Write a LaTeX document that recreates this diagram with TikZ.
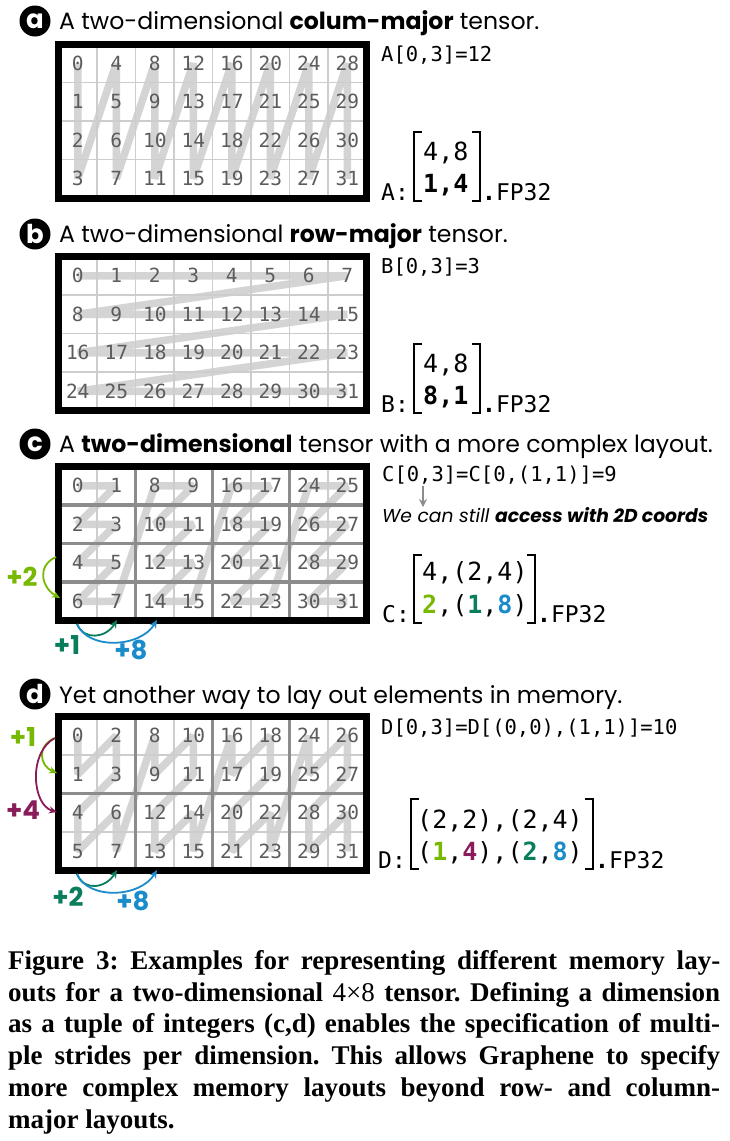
\documentclass[tikz,border=0pt]{standalone}
\usepackage{fontspec}
\setmainfont{Liberation Serif}
\setsansfont{Poppins}
\setmonofont{DejaVu Sans Mono}
\usetikzlibrary{arrows.meta}

\definecolor{nvgreen}{HTML}{76B900}
\definecolor{strideteal}{HTML}{0A7D5C}
\definecolor{strideblue}{HTML}{1A8BCB}
\definecolor{strideplum}{HTML}{8A1C5C}
\definecolor{bandgray}{HTML}{D4D4D4}
\definecolor{rulegray}{HTML}{CDCDCD}
\definecolor{tilegray}{HTML}{8C8C8C}
\definecolor{numgray}{HTML}{5C5C5C}

% grid geometry: left edge and cell size
\def\gx{58.5}
\def\cs{38.5}

% coordinates of the 32 elements of one tensor, placed by memory offset
\newcommand\placecells[4]{%
  \foreach \k in {0,...,31}{%
    \pgfmathtruncatemacro\cellcol{#3}%
    \pgfmathtruncatemacro\cellrow{#4}%
    \coordinate (#1\k) at ({\gx+(\cellcol+0.5)*\cs},{#2+(\cellrow+0.5)*\cs});
  }%
}
% white field, memory-order band, thin cell rules
\newcommand\tensorbase[2]{%
  \fill[white] (\gx,#2) rectangle ++(308,154);
  \draw[band] (#10) \foreach \k in {1,...,31}{ -- (#1\k)};
  \foreach \i in {1,...,7} \draw[cellrule] ({\gx+\i*\cs},#2) -- ++(0,154);
  \foreach \j in {1,2,3} \draw[cellrule] (\gx,{#2+\j*\cs}) -- ++(308,0);
}
% element numbers and outer frame
\newcommand\tensortop[2]{%
  \foreach \k in {0,...,31} \node[num] (n#1\k) at (#1\k) {\k};
  \draw[tensorframe] (\gx,#2) rectangle ++(308,154);
}

\tikzset{
  num/.style={font=\fontsize{19.5}{20}\selectfont\ttfamily, text=numgray, inner sep=0pt},
  band/.style={draw=bandgray, line width=7.5pt, line join=bevel},
  cellrule/.style={draw=rulegray, line width=1.8pt},
  tilerule/.style={draw=tilegray, line width=3.2pt},
  tensorframe/.style={draw=black, line width=7pt},
  badge/.style={circle, fill=black, text=white, minimum size=31pt, inner sep=0pt,
    font=\fontsize{26}{26}\selectfont\sffamily\bfseries},
  title/.style={anchor=base west, inner sep=0pt, font=\fontsize{23.6}{26}\selectfont\sffamily},
  code/.style={anchor=base west, inner sep=0pt, font=\fontsize{20.5}{22}\selectfont\ttfamily},
  mat/.style={anchor=base west, inner sep=0pt, font=\fontsize{25}{26}\selectfont\ttfamily},
  lab/.style={anchor=base west, inner sep=0pt, font=\fontsize{23}{24}\selectfont\ttfamily},
  stride/.style={font=\fontsize{26}{26}\selectfont\sffamily\bfseries, inner sep=0pt},
  strarrow/.style={line width=1.8pt, -{Stealth[length=8pt,width=7pt]}},
  bracket/.style={draw=black, line width=2.4pt},
}

\begin{document}
\begin{tikzpicture}[x=1pt,y=-1pt]
\useasboundingbox (0,0) rectangle (729,1141);
\fill[white] (0,0) rectangle (729,1141);

% ---------------- (a) column-major ----------------
\node[badge] (ba) at (35,21) {a};
\node[title] (ta) at (59,29) {A two-dimensional \textbf{colum-major} tensor.};
\placecells{a}{44}{int(\k/4)}{mod(\k,4)}
\tensorbase{a}{44}
\tensortop{a}{44}
\node[code] (ia) at (381,61) {A[0,3]=12};
\node[lab] (la) at (381,200) {A:};
\node[mat] (ra1) at (423,160) {4,8};
\node[mat] (ra2) at (423,192) {\textbf{1,4}};
\draw[bracket] (422,132) -- (414,132) -- (414,201) -- (422,201);
\draw[bracket] (472,132) -- (480,132) -- (480,201) -- (472,201);
\node[lab] (fa) at (482,200) {\textbf{.}FP32};

% ---------------- (b) row-major ----------------
\node[badge] (bb) at (35,234) {b};
\node[title] (tb) at (59,242) {A two-dimensional \textbf{row-major} tensor.};
\placecells{b}{256.5}{mod(\k,8)}{int(\k/8)}
\tensorbase{b}{256.5}
\tensortop{b}{256.5}
\node[code] (ib) at (381,273.5) {B[0,3]=3};
\node[lab] (lb) at (381,412) {B:};
\node[mat] (rb1) at (423,372) {4,8};
\node[mat] (rb2) at (423,404) {\textbf{8,1}};
\draw[bracket] (422,344) -- (414,344) -- (414,413) -- (422,413);
\draw[bracket] (472,344) -- (480,344) -- (480,413) -- (472,413);
\node[lab] (fb) at (482,412) {\textbf{.}FP32};

% ---------------- (c) nested dimension ----------------
\node[badge] (bc) at (35,444) {c};
\node[title] (tc) at (59,452) {A \textbf{two-dimensional} tensor with a more complex layout.};
\placecells{c}{466.5}{2*int(\k/8)+mod(mod(\k,8),2)}{int(mod(\k,8)/2)}
\tensorbase{c}{466.5}
\foreach \i in {2,4,6} \draw[tilerule] ({\gx+\i*\cs},466.5) -- ++(0,154);
\foreach \j in {1,2,3} \draw[tilerule] (\gx,{466.5+\j*\cs}) -- ++(308,0);
\tensortop{c}{466.5}
\node[code] (ic) at (382,481) {C[0,3]=C[0,(1,1)]=9};
\coordinate (cn1) at (423,486);
\coordinate (cn2) at (423,507);
\draw[line width=2pt, draw=tilegray, -{Stealth[length=8pt,width=8pt]}] (cn1) -- (cn2);
\node[anchor=base west, inner sep=0pt, font=\fontsize{18.7}{20}\selectfont\sffamily\itshape] (nc) at (382,522)
  {We can still \textbf{access with 2D coords}};
\node[lab] (lc) at (382,622) {C:};
\node[mat] (rc1) at (422,580) {4,(2,4)};
\node[mat] (rc2) at (422,613) {\textbf{\textcolor{nvgreen}{2}},(\textbf{\textcolor{strideteal}{1}},\textbf{\textcolor{strideblue}{8}})};
\draw[bracket] (422,555) -- (414,555) -- (414,623) -- (422,623);
\draw[bracket] (527,555) -- (535,555) -- (535,623) -- (527,623);
\node[lab] (fc) at (537,622) {\textbf{.}FP32};
% strides
\coordinate (c2s) at (56,557);
\coordinate (c2e) at (60,598);
\draw[strarrow, nvgreen] (c2s) .. controls (36,566) and (42,588) .. (c2e);
\node[stride, text=nvgreen] (sc2) at (22,577) {+2};
\coordinate (c1s) at (77,624);
\coordinate (c1e) at (117,620);
\coordinate (c8e) at (157,620);
\draw[strarrow, strideteal] (c1s) .. controls (84,641) and (106,638) .. (c1e);
\draw[strarrow, strideblue] (c1s) .. controls (88,650) and (140,648) .. (c8e);
\node[stride, text=strideteal] (sc1) at (67,645) {+1};
\node[stride, text=strideblue] (sc8) at (131,650) {+8};

% ---------------- (d) nested in both dimensions ----------------
\node[badge] (bd) at (35,694) {d};
\node[title] (td) at (59,703) {Yet another way to lay out elements in memory.};
\placecells{d}{716.5}{2*int(\k/8)+int(mod(mod(\k,8),4)/2)}{2*int(mod(\k,8)/4)+mod(mod(mod(\k,8),4),2)}
\tensorbase{d}{716.5}
\foreach \i in {2,4,6} \draw[tilerule] ({\gx+\i*\cs},716.5) -- ++(0,154);
\draw[tilerule] (\gx,{716.5+2*\cs}) -- ++(308,0);
\tensortop{d}{716.5}
\node[code] (id) at (381,734) {D[0,3]=D[(0,0),(1,1)]=10};
\node[lab] (ld) at (378,868) {D:};
\node[mat] (rd1) at (417,828) {(2,2),(2,4)};
\node[mat] (rd2) at (417,860) {(\textbf{\textcolor{nvgreen}{1}},\textbf{\textcolor{strideplum}{4}}),(\textbf{\textcolor{strideteal}{2}},\textbf{\textcolor{strideblue}{8}})};
\draw[bracket] (419,799) -- (411,799) -- (411,869) -- (419,869);
\draw[bracket] (585,799) -- (593,799) -- (593,869) -- (585,869);
\node[lab] (fd) at (595,868) {\textbf{.}FP32};
% strides
\coordinate (d1s) at (55,738);
\coordinate (d1e) at (57,773);
\coordinate (d4e) at (57,812);
\draw[strarrow, nvgreen] (d1s) .. controls (36,746) and (40,766) .. (d1e);
\draw[strarrow, strideplum] (d1s) .. controls (28,752) and (32,805) .. (d4e);
\node[stride, text=nvgreen] (sd1) at (23,737) {+1};
\node[stride, text=strideplum] (sd4) at (23,810) {+4};
\coordinate (d2s) at (77,874);
\coordinate (d2e) at (117,870);
\coordinate (d8e) at (157,870);
\draw[strarrow, strideteal] (d2s) .. controls (84,892) and (106,888) .. (d2e);
\draw[strarrow, strideblue] (d2s) .. controls (88,900) and (140,898) .. (d8e);
\node[stride, text=strideteal] (sd2) at (68,897) {+2};
\node[stride, text=strideblue] (sd8) at (133,901) {+8};

% ---------------- caption ----------------
\node[anchor=north west, inner sep=0pt, text width=712pt, align=justify,
      font=\fontsize{27}{31.8}\selectfont\bfseries] (cap) at (8,950)
 {\frenchspacing\tolerance=9999 Figure 3: Examples for representing different memory lay-\linebreak
  outs for a two-dimensional {\mdseries 4×8} tensor. Defining a dimension\linebreak
  as a tuple of integers (c,d) enables the specification of multi-\linebreak
  ple strides per dimension. This allows Graphene to specify\linebreak
  more complex memory layouts beyond row- and column-\linebreak
  major layouts.};
\end{tikzpicture}
\end{document}
